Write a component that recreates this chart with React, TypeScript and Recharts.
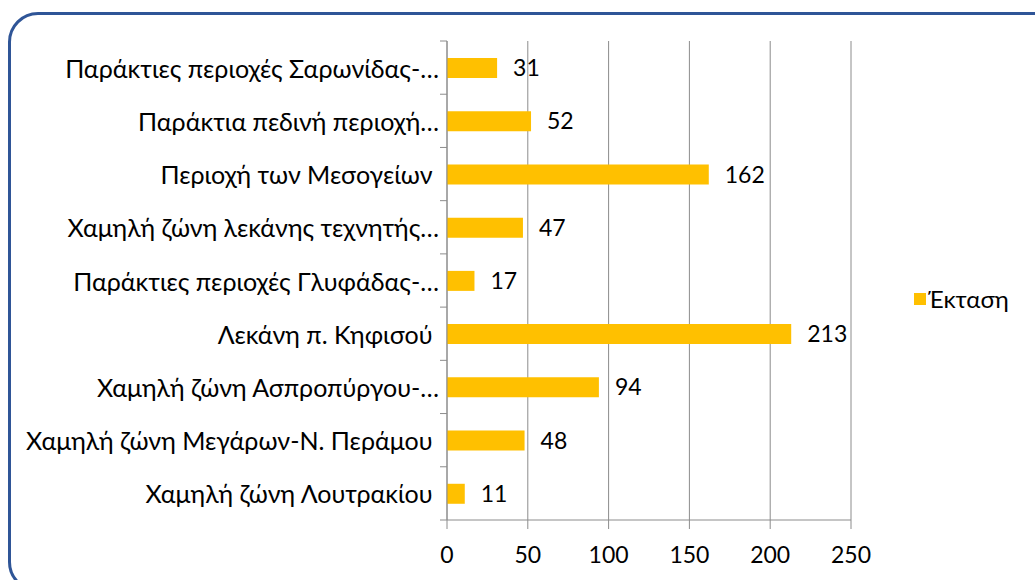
import { Bar, BarChart, CartesianGrid, LabelList, Legend, XAxis, YAxis } from "recharts";

const categories = [
  "Παράκτιες περιοχές Σαρωνίδας-…",
  "Παράκτια πεδινή περιοχή…",
  "Περιοχή των Μεσογείων ",
  "Χαμηλή ζώνη λεκάνης τεχνητής…",
  "Παράκτιες περιοχές Γλυφάδας-…",
  "Λεκάνη π. Κηφισού ",
  "Χαμηλή ζώνη Ασπροπύργου-…",
  "Χαμηλή ζώνη Μεγάρων-Ν. Περάμου ",
  "Χαμηλή ζώνη Λουτρακίου "
];
const areaValues = [31, 52, 162, 47, 17, 213, 94, 48, 11];
const xTicks = [0, 50, 100, 150, 200, 250];
const seriesName = "Έκταση";

const data = categories.map((name, i) => ({ name, value: areaValues[i] }));

const FONT = "Lato, 'Open Sans', sans-serif";
const FS = 24;
const LABEL_FS = 25;
const NUM_FS = 23;
const GRID = "#8c8c8c";
const BAR = "#FFC000";
const PLOT_TOP = 41;
const PLOT_BOTTOM = 520;
const AXIS_X = 447;
const BAND = (PLOT_BOTTOM - PLOT_TOP) / categories.length;

function CategoryTick(props: any) {
  const { x, y, payload, index } = props;
  const top = y - BAND / 2;
  const bottom = y + BAND / 2;
  return (
    <g>
      <line x1={AXIS_X - 7} x2={AXIS_X} y1={top} y2={top} stroke={GRID} />
      {index === categories.length - 1 && (
        <line x1={AXIS_X - 7} x2={AXIS_X} y1={bottom} y2={bottom} stroke={GRID} />
      )}
      <text
        x={x}
        y={y}
        textAnchor="end"
        dominantBaseline="central"
        fill="#000"
        fontSize={LABEL_FS}
        style={{ whiteSpace: "pre" }}
      >
        {payload.value}
      </text>
    </g>
  );
}

function LegendContent() {
  return (
    <div style={{ display: "flex", alignItems: "center", fontSize: FS, color: "#000", whiteSpace: "nowrap" }}>
      <span style={{ width: 12, height: 12, background: BAR, marginRight: 2, display: "inline-block" }} />
      <span>{seriesName}</span>
    </div>
  );
}

export default function App() {
  return (
    <div
      style={{
        position: "fixed",
        left: 0,
        top: 0,
        width: 1035,
        height: 580,
        overflow: "hidden",
        background: "#fff",
        fontFamily: FONT
      }}
    >
      <div
        style={{
          position: "absolute",
          left: 8,
          top: 12,
          width: 1070,
          height: 580,
          border: "3px solid #2F5597",
          borderRadius: 30,
          boxSizing: "border-box"
        }}
      />
      <div style={{ position: "absolute", left: 0, top: 0 }}>
        <BarChart
          width={1035}
          height={580}
          data={data}
          layout="vertical"
          margin={{ top: PLOT_TOP, right: 1035 - 851, bottom: 580 - PLOT_BOTTOM - 40, left: 0 }}
        >
          <CartesianGrid horizontal={false} stroke={GRID} ticks={xTicks} />
          <XAxis
            type="number"
            domain={[0, 250]}
            ticks={xTicks}
            height={40}
            axisLine={{ stroke: GRID }}
            tickLine={{ stroke: GRID }}
            tickSize={9}
            tickMargin={18}
            tick={{ fill: "#000", fontSize: NUM_FS }}
          />
          <YAxis
            type="category"
            dataKey="name"
            width={AXIS_X}
            axisLine={{ stroke: GRID }}
            tickLine={false}
            tickSize={7}
            tickMargin={1}
            interval={0}
            tick={<CategoryTick />}
          />
          <Legend
            layout="horizontal"
            align="center"
            verticalAlign="middle"
            content={<LegendContent />}
            wrapperStyle={{ left: 914, top: 284, width: 121 }}
          />
          <Bar dataKey="value" name={seriesName} fill={BAR} barSize={20} isAnimationActive={false}>
            <LabelList dataKey="value" position="right" offset={16} fill="#000" fontSize={NUM_FS} />
          </Bar>
        </BarChart>
      </div>
    </div>
  );
}
